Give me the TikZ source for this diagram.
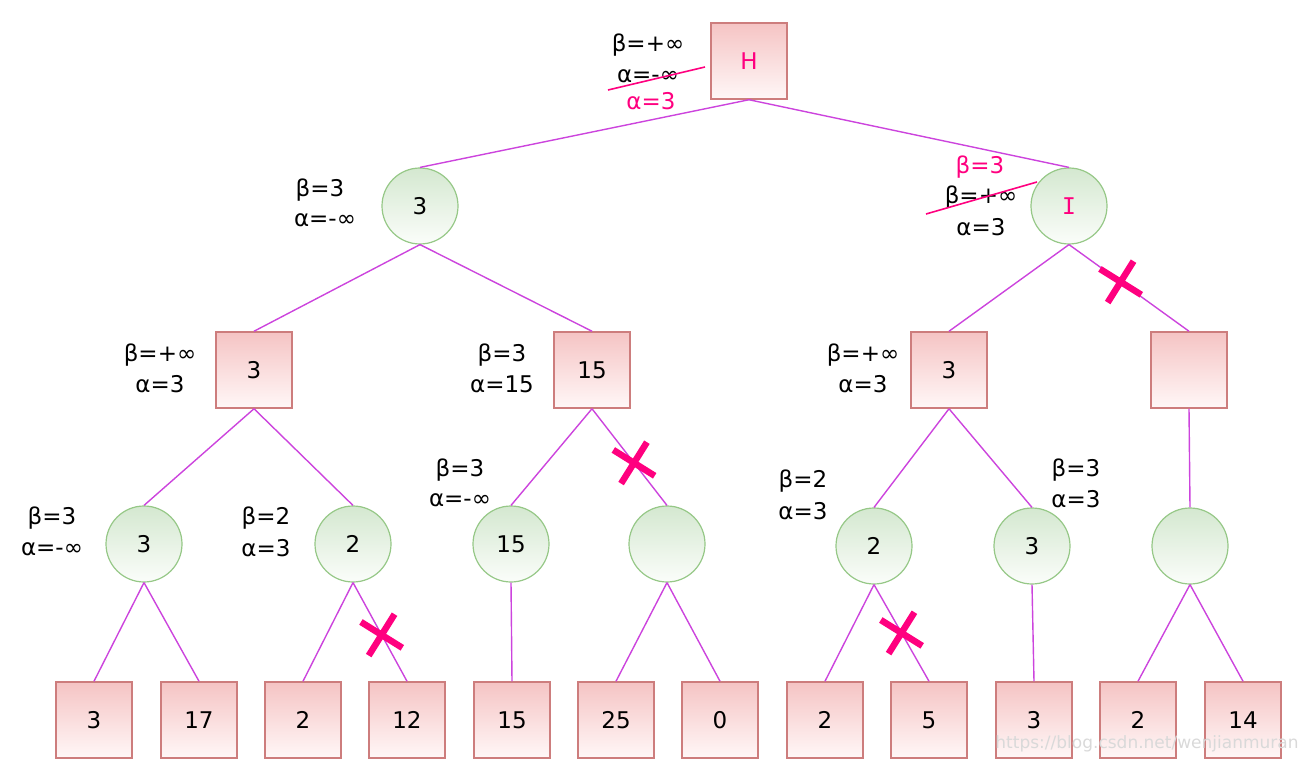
\documentclass[tikz,border=0pt]{standalone}
\usepackage{fontspec}
\setmainfont{DejaVu Sans}
\newfontfamily\serifI{DejaVu Sans Mono}
\usepackage{tikz}
\usetikzlibrary{positioning, calc, shapes.misc}
\definecolor{edgecol}{RGB}{204,68,221}
\definecolor{sqtop}{RGB}{245,196,196}
\definecolor{sqbot}{RGB}{255,247,247}
\definecolor{sqline}{RGB}{205,125,125}
\definecolor{citop}{RGB}{212,232,208}
\definecolor{cibot}{RGB}{251,253,250}
\definecolor{ciline}{RGB}{150,200,135}
\definecolor{hot}{RGB}{255,0,127}

\begin{document}
\begin{tikzpicture}[x=1pt, y=-1pt, font=\fontsize{23}{28}\selectfont,
		sq/.style={rectangle, draw=sqline, line width=1.5pt, top color=sqtop, bottom color=sqbot, minimum size=76pt, inner sep=0pt},
		ci/.style={circle, draw=ciline, line width=1.2pt, top color=citop, bottom color=cibot, minimum size=76pt, inner sep=0pt},
		lab/.style={inner sep=0pt},
		link/.style={draw=edgecol, line width=1.4pt},
		cut/.style={cross out, draw=hot, line width=6.5pt, minimum size=28pt, inner sep=0pt, rotate=13},
		strike/.style={draw=hot, line width=1.6pt}]
		\useasboundingbox (0,0) rectangle (1307,778);
		
		% tree nodes
		\node[sq, text=hot] (h) at (749,61) {H};
		\node[ci] (c1) at (420,206) {3};
		\node[ci, text=hot] (i) at (1069,206) {\serifI I};
		\node[sq] (s1) at (254,370) {3};
		\node[sq] (s2) at (592,370) {15};
		\node[sq] (s3) at (949,370) {3};
		\node[sq] (s4) at (1189,370) {};
		\node[ci] (c2) at (144,544) {3};
		\node[ci] (c3) at (353,544) {2};
		\node[ci] (c4) at (511,544) {15};
		\node[ci] (c5) at (667,544) {};
		\node[ci] (c6) at (874,546) {2};
		\node[ci] (c7) at (1032,546) {3};
		\node[ci] (c8) at (1190,546) {};
		\node[sq] (l1) at (94,720) {3};
		\node[sq] (l2) at (199,720) {17};
		\node[sq] (l3) at (303,720) {2};
		\node[sq] (l4) at (407,720) {12};
		\node[sq] (l5) at (512,720) {15};
		\node[sq] (l6) at (616,720) {25};
		\node[sq] (l7) at (720,720) {0};
		\node[sq] (l8) at (825,720) {2};
		\node[sq] (l9) at (929,720) {5};
		\node[sq] (l10) at (1034,720) {3};
		\node[sq] (l11) at (1138,720) {2};
		\node[sq] (l12) at (1243,720) {14};
		
		% branches
		\draw[link] (h.south) -- (c1.north);
		\draw[link] (h.south) -- (i.north);
		\draw[link] (c1.south) -- (s1.north);
		\draw[link] (c1.south) -- (s2.north);
		\draw[link] (i.south) -- (s3.north);
		\draw[link] (i.south) -- node[cut, pos=0.43] (x1) {} (s4.north);
		\draw[link] (s1.south) -- (c2.north);
		\draw[link] (s1.south) -- (c3.north);
		\draw[link] (s2.south) -- (c4.north);
		\draw[link] (s2.south) -- node[cut, pos=0.56] (x2) {} (c5.north);
		\draw[link] (s3.south) -- (c6.north);
		\draw[link] (s3.south) -- (c7.north);
		\draw[link] (s4.south) -- (c8.north);
		\draw[link] (c2.south) -- (l1.north);
		\draw[link] (c2.south) -- (l2.north);
		\draw[link] (c3.south) -- (l3.north);
		\draw[link] (c3.south) -- node[cut, pos=0.53] (x3) {} (l4.north);
		\draw[link] (c4.south) -- (l5.north);
		\draw[link] (c5.south) -- (l6.north);
		\draw[link] (c5.south) -- (l7.north);
		\draw[link] (c6.south) -- (l8.north);
		\draw[link] (c6.south) -- node[cut, pos=0.5] (x4) {} (l9.north);
		\draw[link] (c7.south) -- (l10.north);
		\draw[link] (c8.south) -- (l11.north);
		\draw[link] (c8.south) -- (l12.north);
		
		% bounds
		\node[lab] (hb) at (648,45) {β=+∞};
		\node[lab] (ha) at (648,76) {α=-∞};
		\node[lab, text=hot] (ha2) at (651,101) {α=3};
		\draw[strike] ($(ha)+(-40,14)$) -- ($(ha)+(57,-9)$);
		\node[lab] (c1b) at (320,190) {β=3};
		\node[lab] (c1a) at (325,220) {α=-∞};
		\node[lab, text=hot] (ib2) at (980,167) {β=3};
		\node[lab] (ib) at (981,197) {β=+∞};
		\node[lab] (ia) at (981,227) {α=3};
		\draw[strike] ($(ib)+(-55,17)$) -- ($(ib)+(56,-15)$);
		\node[lab] (s1b) at (160,355) {β=+∞};
		\node[lab] (s1a) at (160,384) {α=3};
		\node[lab] (s2b) at (502,355) {β=3};
		\node[lab] (s2a) at (502,384) {α=15};
		\node[lab] (s3b) at (863,355) {β=+∞};
		\node[lab] (s3a) at (863,384) {α=3};
		\node[lab] (c2b) at (52,518) {β=3};
		\node[lab] (c2a) at (52,549) {α=-∞};
		\node[lab] (c3b) at (266,518) {β=2};
		\node[lab] (c3a) at (266,548) {α=3};
		\node[lab] (c4b) at (460,470) {β=3};
		\node[lab] (c4a) at (460,500) {α=-∞};
		\node[lab] (c6b) at (803,481) {β=2};
		\node[lab] (c6a) at (803,511) {α=3};
		\node[lab] (c7b) at (1076,470) {β=3};
		\node[lab] (c7a) at (1076,499) {α=3};
		
		\node[lab, text=black!15, font=\fontsize{17}{20}\selectfont] (wm) at (1147,744) {https://blog.csdn.net/wenjianmuran};
	\end{tikzpicture}
\end{document}
